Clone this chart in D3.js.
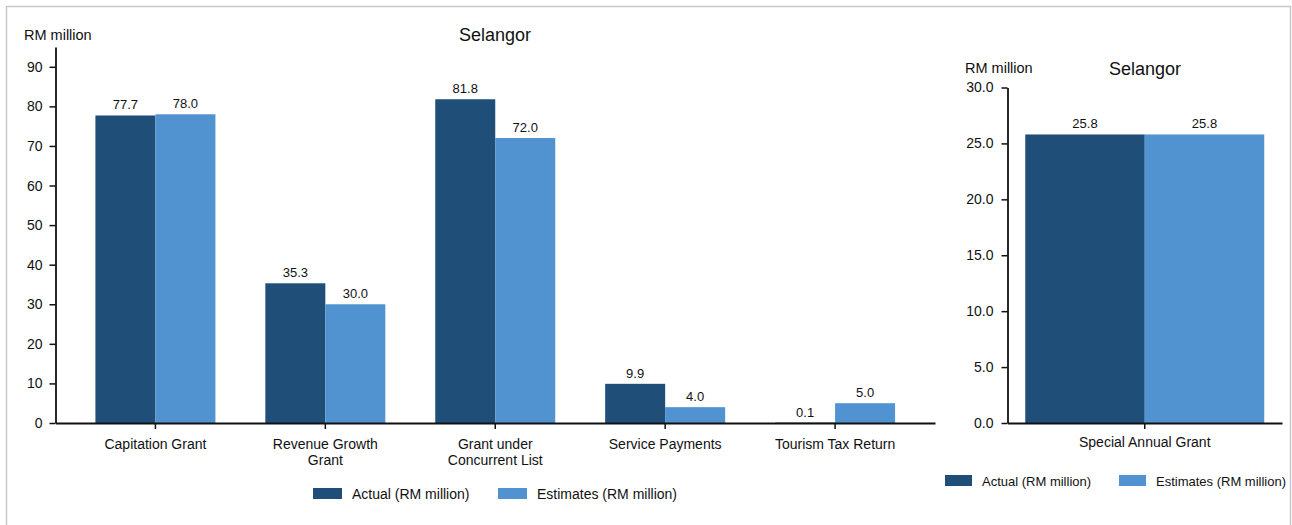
<!DOCTYPE html>
<html>
<head>
<meta charset="utf-8">
<script src="https://cdn.jsdelivr.net/npm/d3@7"></script>
<style>
  body { margin: 0; background: #fff; }
  svg text { font-family: "Liberation Sans", Arial, sans-serif; fill: #111; }
</style>
</head>
<body>
<div id="chart"></div>
<script>
// main panel data
var categories = ["Capitation Grant", "Revenue Growth Grant", "Grant under Concurrent List", "Service Payments", "Tourism Tax Return"];
var actual = [77.7, 35.3, 81.8, 9.9, 0.1];
var estimates = [78.0, 30.0, 72.0, 4.0, 5.0];
var yTicks = [0, 10, 20, 30, 40, 50, 60, 70, 80, 90];

// side panel data
var sideCategories = ["Special Annual Grant"];
var sideActual = [25.8];
var sideEstimates = [25.8];
var sideTicks = [0, 5, 10, 15, 20, 25, 30];

var seriesNames = ["Actual (RM million)", "Estimates (RM million)"];
var colors = ["#1f4e79", "#5193d0"];

var svg = d3.select("#chart").append("svg")
  .attr("width", 1292)
  .attr("height", 525);

// outer frame
svg.append("rect")
  .attr("x", 6.5).attr("y", 6.5)
  .attr("width", 1284).attr("height", 540)
  .attr("fill", "none")
  .attr("stroke", "#c8c8c8")
  .attr("stroke-width", 1.5);

function wrap(text, width) {
  text.each(function() {
    var t = d3.select(this);
    var words = t.text().split(/\s+/);
    var y = t.attr("y");
    var dy = parseFloat(t.attr("dy"));
    var line = [];
    var lineNo = 0;
    var tspan = t.text(null).append("tspan").attr("x", 0).attr("y", y).attr("dy", dy + "em");
    words.forEach(function(w) {
      line.push(w);
      tspan.text(line.join(" "));
      if (tspan.node().getComputedTextLength() > width && line.length > 1) {
        line.pop();
        tspan.text(line.join(" "));
        line = [w];
        lineNo++;
        tspan = t.append("tspan").attr("x", 0).attr("y", y)
          .attr("dy", (lineNo * 1.15 + dy) + "em").text(w);
      }
    });
  });
}

function panel(opts) {
  var g = svg.append("g");

  var y = d3.scaleLinear().domain(opts.yDomain).range([423, opts.top]);

  var x0 = d3.scaleBand()
    .domain(opts.cats)
    .range(opts.xRange)
    .paddingInner(0)
    .paddingOuter(opts.outer);

  //bars sit on both sides of the band centre
  var half = opts.barW;
  var x1 = d3.scaleBand()
    .domain(seriesNames)
    .range([x0.bandwidth() / 2 - half, x0.bandwidth() / 2 + half]);

  var rows = opts.cats.map(function(c, i) {
    return { cat: c, vals: [opts.a[i], opts.e[i]] };
  });

  var grp = g.selectAll("g.cat")
    .data(rows)
    .enter().append("g")
    .attr("class", "cat")
    .attr("transform", function(d) { return "translate(" + x0(d.cat) + ",0)"; });

  grp.selectAll("rect")
    .data(function(d) { return d.vals.map(function(v, j) { return { name: seriesNames[j], v: v, j: j }; }); })
    .enter().append("rect")
    .attr("x", function(d) { return x1(d.name); })
    .attr("width", x1.bandwidth())
    .attr("y", function(d) { return y(d.v); })
    .attr("height", function(d) { return 423 - y(d.v); })
    .style("fill", function(d) { return colors[d.j]; });

  grp.selectAll("text.val")
    .data(function(d) { return d.vals.map(function(v, j) { return { name: seriesNames[j], v: v }; }); })
    .enter().append("text")
    .attr("class", "val")
    .attr("x", function(d) { return x1(d.name) + x1.bandwidth() / 2; })
    .attr("y", function(d) { return y(d.v) - 6; })
    .attr("text-anchor", "middle")
    .style("font-size", "13px")
    .text(function(d) { return d.v.toFixed(1); });

  var yAxis = d3.axisLeft(y)
    .tickValues(opts.ticks)
    .tickFormat(opts.fmt)
    .tickSize(6)
    .tickSizeOuter(0)
    .tickPadding(opts.tickPad);

  var ya = g.append("g")
    .attr("transform", "translate(" + opts.xRange[0] + ",0)")
    .call(yAxis);
  ya.selectAll("text").style("font-size", "14px");

  var xAxis = d3.axisBottom(x0).tickSize(6).tickSizeOuter(0).tickPadding(opts.xPad);
  var xa = g.append("g")
    .attr("transform", "translate(0,423)")
    .call(xAxis);
  xa.selectAll("text").style("font-size", "14px").call(wrap, 132);

  [ya, xa].forEach(function(a) {
    a.select(".domain").attr("stroke", "#111").attr("stroke-width", 1.8);
    a.selectAll(".tick line").attr("stroke", "#111").attr("stroke-width", 1.5);
  });

  g.append("text")
    .attr("x", opts.titleX).attr("y", opts.titleY)
    .attr("text-anchor", "middle")
    .style("font-size", "18px")
    .text("Selangor");

  g.append("text")
    .attr("x", opts.unitX).attr("y", opts.unitY)
    .style("font-size", "14.5px")
    .text("RM million");

  var lg = g.selectAll("g.leg")
    .data(seriesNames)
    .enter().append("g")
    .attr("class", "leg")
    .attr("transform", function(d, i) { return "translate(" + opts.legX[i] + "," + opts.legY + ")"; });
  lg.append("rect")
    .attr("x", 0).attr("y", -6)
    .attr("width", opts.legW).attr("height", 11)
    .style("fill", function(d, i) { return colors[i]; });
  lg.append("text")
    .attr("x", opts.legW + 10).attr("y", 5)
    .style("font-size", opts.legFont)
    .text(function(d) { return d; });
}

panel({
  cats: categories, a: actual, e: estimates,
  yDomain: [0, 95], top: 47, ticks: yTicks, fmt: d3.format("d"), tickPad: 7, xPad: 10,
  xRange: [55.5, 935], outer: 0.088, barW: 60,
  titleX: 495, titleY: 41, unitX: 24, unitY: 40,
  legX: [313, 498], legY: 494, legW: 29, legFont: "14px"
});

panel({
  cats: sideCategories, a: sideActual, e: sideEstimates,
  yDomain: [0, 30], top: 87.5, ticks: sideTicks, fmt: d3.format(".1f"), tickPad: 8, xPad: 8,
  xRange: [1007.5, 1282], outer: 0.075, barW: 119.5,
  titleX: 1145, titleY: 75, unitX: 965, unitY: 73,
  legX: [945, 1119], legY: 481, legW: 27, legFont: "13px"
});
</script>
</body>
</html>
